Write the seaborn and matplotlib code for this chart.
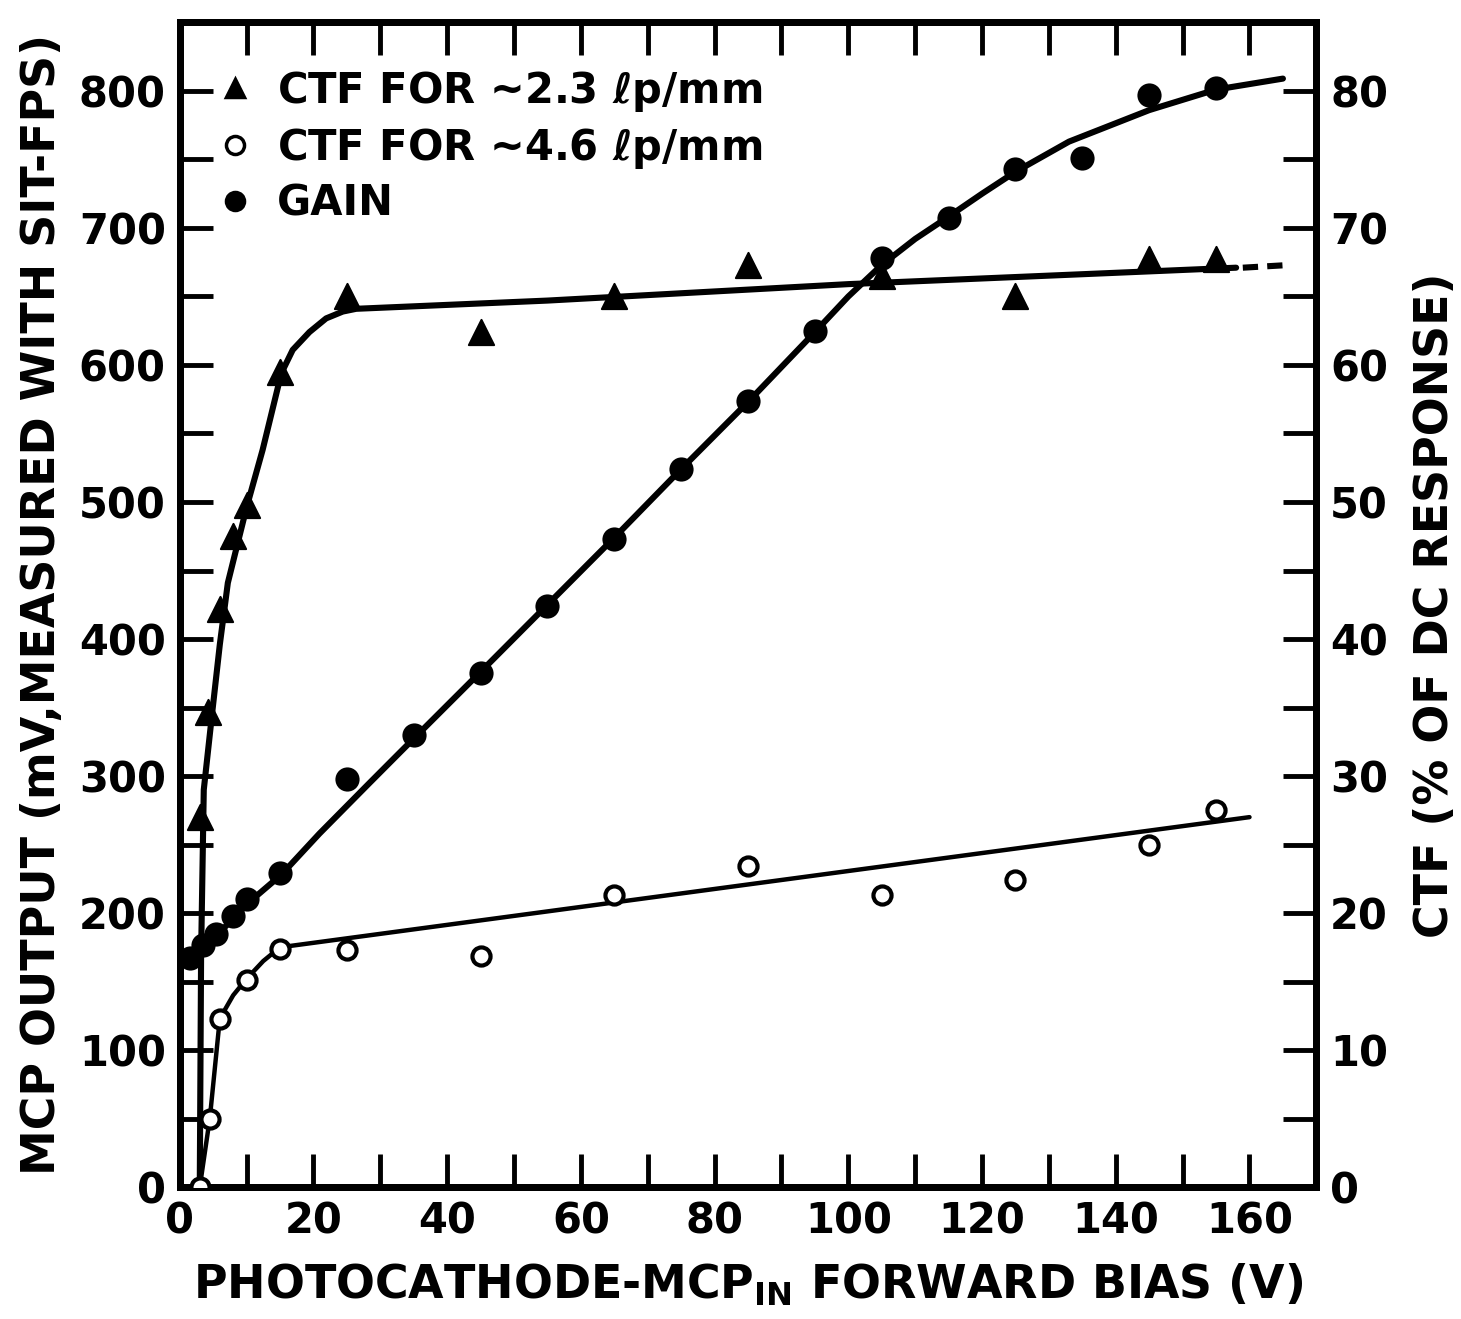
import matplotlib
matplotlib.use("Agg")
import matplotlib.pyplot as plt
from matplotlib.ticker import MultipleLocator
import seaborn as sns

# ── measured points ───────────────────────────────────────────
gain_x = [1.5, 3.5, 5.5, 8, 10, 15, 25, 35, 45, 55, 65, 75, 85, 95,
          105, 115, 125, 135, 145, 155]
gain_mv = [167, 177, 185, 198, 210, 229, 298, 330, 375, 424, 473, 524,
           574, 625, 678, 707, 743, 751, 797, 802]

ctf23_x = [3, 4.2, 6, 8, 10, 15, 25, 45, 65, 85, 105, 125, 145, 155]
ctf23_pct = [27, 34.7, 42.2, 47.5, 49.8, 59.5, 65, 62.4, 65, 67.3, 66.5,
             65, 67.7, 67.7]

ctf46_x = [3, 4.5, 6, 10, 15, 25, 45, 65, 85, 105, 125, 145, 155]
ctf46_pct = [0, 5, 12.3, 15.1, 17.4, 17.3, 16.9, 21.3, 23.4, 21.3, 22.4,
             25, 27.5]

# ── hand-drawn curves through the points ──────────────────────
gain_fit_x = [1, 3.5, 6, 8, 10.4, 15.2, 20.9, 28.4, 33.3, 45, 55, 65, 75,
              85, 95, 100, 105, 110, 114, 120, 125, 133, 145, 155, 165]
gain_fit_mv = [166, 176, 186, 196, 208, 228, 258, 295, 319, 376, 425, 474,
               524, 573, 624, 650, 673, 692, 705, 725, 741, 763, 786, 801, 809]

ctf23_fit_x = [3, 3.2, 3.6, 4.9, 6, 7.2, 10, 12.4, 15.2, 16.9, 19.4, 21.9,
               24.4, 26.4, 55, 100, 158]
ctf23_fit_pct = [0, 17, 29, 34.8, 39.6, 44.1, 49.6, 53.8, 59.4, 61.1, 62.4,
                 63.4, 63.9, 64.1, 64.7, 65.9, 67.1]
ctf23_dash_x = [159, 166]
ctf23_dash_pct = [67.1, 67.3]

ctf46_fit_x = [3, 4.5, 6, 8, 10, 12.5, 15, 160]
ctf46_fit_pct = [0, 5, 12.3, 14, 15.2, 16.5, 17.5, 27]

sns.set_style("ticks")
ink = "black"
plt.rcParams["font.family"] = ["DejaVu Sans"]
plt.rcParams["font.weight"] = "bold"
plt.rcParams["text.color"] = ink
plt.rcParams["axes.labelcolor"] = ink
plt.rcParams["xtick.color"] = ink
plt.rcParams["ytick.color"] = ink
plt.rcParams["mathtext.default"] = "bf"

fig = plt.figure(figsize=(14.61, 13.19), dpi=100)
ax = fig.add_axes([0.123, 0.100, 0.778, 0.883])
ax2 = ax.twinx()

# fitted curves
sns.lineplot(x=gain_fit_x, y=gain_fit_mv, ax=ax, color=ink, lw=4.4,
             sort=False, estimator=None)
sns.lineplot(x=ctf23_fit_x, y=ctf23_fit_pct, ax=ax2, color=ink, lw=4.4,
             sort=False, estimator=None)
ax2.plot(ctf23_dash_x, ctf23_dash_pct, color=ink, lw=4.4, ls=(0, (2.5, 1.5)))
sns.lineplot(x=ctf46_fit_x, y=ctf46_fit_pct, ax=ax2, color=ink, lw=3.2,
             sort=False, estimator=None)

# data points
sns.scatterplot(x=gain_x, y=gain_mv, ax=ax, marker="o", s=260, color=ink,
                edgecolor=ink, zorder=5)
sns.scatterplot(x=ctf23_x, y=ctf23_pct, ax=ax2, marker="^", s=330,
                color=ink, edgecolor=ink, zorder=5)
sns.scatterplot(x=ctf46_x, y=ctf46_pct, ax=ax2, marker="o", s=170,
                facecolor="white", edgecolor=ink, linewidth=3, zorder=5)

# axes
ax.set_xlim(0, 170)
ax.set_ylim(0, 850)
ax2.set_ylim(0, 85)

ax.xaxis.set_major_locator(MultipleLocator(20))
ax.xaxis.set_minor_locator(MultipleLocator(10))
ax.yaxis.set_major_locator(MultipleLocator(100))
ax.yaxis.set_minor_locator(MultipleLocator(50))
ax2.yaxis.set_major_locator(MultipleLocator(10))
ax2.yaxis.set_minor_locator(MultipleLocator(5))

tick_kw = dict(direction="in", length=24, width=3.5, color=ink)
ax.tick_params(axis="both", which="both", top=True, right=False, **tick_kw)
ax.tick_params(axis="both", which="major", labelsize=30, pad=10,
               labelcolor=ink)
ax2.tick_params(axis="y", which="both", **tick_kw)
ax2.tick_params(axis="y", which="major", labelsize=30, pad=10,
                labelcolor=ink)

for a in (ax, ax2):
    for sp in a.spines.values():
        sp.set_visible(True)
        sp.set_linewidth(5)
        sp.set_color(ink)

ax.set_xlabel("PHOTOCATHODE-MCP$_{IN}$ FORWARD BIAS (V)",
              fontsize=33, fontweight="bold", labelpad=14)
ax.set_ylabel("MCP OUTPUT (mV,MEASURED WITH SIT-FPS)", fontsize=33,
              fontweight="bold", labelpad=10)
ax2.set_ylabel("CTF (% OF DC RESPONSE)", fontsize=33, fontweight="bold",
               labelpad=18)

# legend
legend_rows = [("^", "black", "CTF FOR ~2.3 $\\ell$p/mm"),
               ("o", "white", "CTF FOR ~4.6 $\\ell$p/mm"),
               ("o", "black", "GAIN")]
handles = [plt.Line2D([], [], ls="none", marker=m, markersize=13,
                      markerfacecolor=fc, markeredgecolor=ink,
                      markeredgewidth=2.5, label=t)
           for m, fc, t in legend_rows]
ax.legend(handles=handles, loc="upper left", frameon=False,
          fontsize=30, handletextpad=0.5, handlelength=1.0,
          borderaxespad=0.3, labelspacing=0.28,
          bbox_to_anchor=(0.005, 0.985))

plt.savefig("out.png", dpi=100)
plt.close()
